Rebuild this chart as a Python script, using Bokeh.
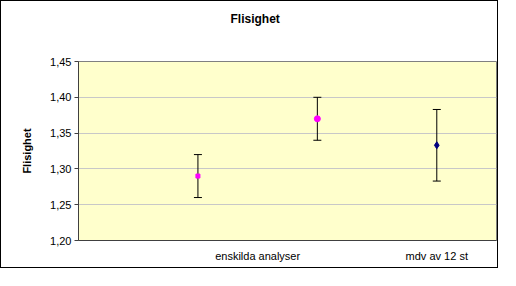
from bokeh.plotting import figure
from bokeh.models import ColumnDataSource, Whisker, TeeHead, FixedTicker, Range1d, Title
from bokeh.embed import file_html
from bokeh.resources import INLINE

# data
x_pos = [1, 2, 3]
values = [1.29, 1.37, 1.333]
errors = [0.03, 0.03, 0.05]
markers = ["square", "circle", "diamond"]
colors = ["#FF00FF", "#FF00FF", "#000080"]
sizes = [4, 6, 7]
x_tick_pos = [1.5, 3]
x_tick_labels = ["enskilda analyser", "mdv av 12 st"]
y_ticks = [1.20, 1.25, 1.30, 1.35, 1.40, 1.45]
y_tick_labels = ["1,20", "1,25", "1,30", "1,35", "1,40", "1,45"]
title_text = "Flisighet"

src = ColumnDataSource(dict(
    x=x_pos, y=values,
    lower=[v - e for v, e in zip(values, errors)],
    upper=[v + e for v, e in zip(values, errors)],
    marker=markers, color=colors, size=sizes,
))

p = figure(width=498, height=268, output_backend="svg", toolbar_location=None,
           x_range=Range1d(0, 3.5), y_range=Range1d(1.20, 1.45),
           min_border_left=77, min_border_right=3, min_border_top=60,
           min_border_bottom=29, title=title_text)
p.styles = {"border": "1px solid black"}

# blank spacer between the title and the plot area
spacer = Title(text=" ", standoff=18, text_font_size="12px")
p.add_layout(spacer, "above")

p.title.align = "left"
p.title.offset = 152
p.title.vertical_align = "top"
p.title.standoff = 0
p.title.text_color = "black"
p.title.text_font = "Liberation Sans"
p.title.text_font_size = "12px"
p.title.text_font_style = "bold"

p.background_fill_color = "#FFFFCC"
p.border_fill_color = "white"
p.outline_line_color = "#808080"

p.xgrid.visible = False
p.ygrid.grid_line_color = "#C8C8C8"
p.ygrid.ticker = FixedTicker(ticks=y_ticks)

p.yaxis.ticker = FixedTicker(ticks=y_ticks)
p.yaxis.major_label_overrides = {t: l for t, l in zip(y_ticks, y_tick_labels)}
p.yaxis.axis_label = "Flisighet"
p.yaxis.axis_label_text_color = "black"
p.yaxis.axis_label_text_font = "Liberation Sans"
p.yaxis.axis_label_text_font_size = "11px"
p.yaxis.axis_label_text_font_style = "bold"
p.yaxis.axis_label_standoff = 14
p.yaxis.major_label_text_color = "black"
p.yaxis.major_label_text_font = "Liberation Sans"
p.yaxis.major_label_text_font_size = "11px"
p.yaxis.major_label_standoff = 3
p.yaxis.major_tick_out = 4
p.yaxis.major_tick_in = 0
p.yaxis.minor_tick_line_color = None
p.yaxis.axis_line_color = "#404040"
p.yaxis.major_tick_line_color = "#404040"

p.xaxis.ticker = FixedTicker(ticks=x_tick_pos)
p.xaxis.major_label_overrides = {t: l for t, l in zip(x_tick_pos, x_tick_labels)}
p.xaxis.major_label_text_color = "black"
p.xaxis.major_label_text_font = "Liberation Sans"
p.xaxis.major_label_text_font_size = "11px"
p.xaxis.major_label_standoff = 3
p.xaxis.major_tick_line_color = None
p.xaxis.minor_tick_line_color = None
p.xaxis.axis_line_color = "#404040"

w = Whisker(base="x", lower="lower", upper="upper", source=src,
            line_color="black", line_width=1,
            upper_head=TeeHead(size=8, line_color="black", line_width=1),
            lower_head=TeeHead(size=8, line_color="black", line_width=1))
p.add_layout(w)

p.scatter("x", "y", source=src, marker="marker", fill_color="color",
          line_color="color", size="size")

open("out.html", "w").write(file_html(p, INLINE))
